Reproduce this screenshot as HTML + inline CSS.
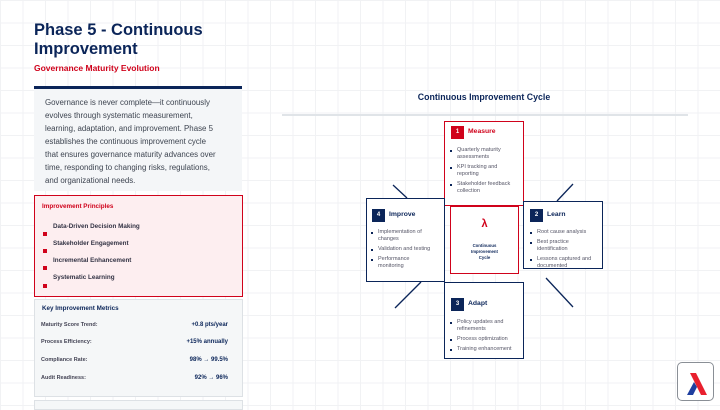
<!DOCTYPE html>
<html><head><meta charset="utf-8"><style>
*{margin:0;padding:0;box-sizing:border-box}
body{width:720px;height:405px;overflow:hidden;position:relative;font-family:"Liberation Sans",sans-serif;background:#fff;
background-image:linear-gradient(#f1f2f4 1px,transparent 1px),linear-gradient(90deg,#f1f2f4 1px,transparent 1px);background-size:22.5px 22.5px}
.a{position:absolute;white-space:nowrap}
.navy{color:#0b2559}
.red{color:#d0021b}
h1{position:absolute;left:34px;top:21px;font-size:16.5px;line-height:19px;font-weight:bold;color:#0b2559}
.box{position:absolute;background:#fff;border:1.3px solid #0b2559}
.num{position:absolute;width:13px;height:13px;background:#0b2559;color:#fff;font-size:6px;font-weight:bold;text-align:center;line-height:13px}
.bt{position:absolute;font-size:6.8px;font-weight:bold;color:#0b2559}
ul{position:absolute;list-style:none;font-size:5.5px;color:#556;line-height:7px;white-space:nowrap}
ul li{position:relative;padding-left:8px;margin-bottom:3px}
ul li:before{content:"";position:absolute;left:1px;top:3px;width:1.5px;height:1.5px;background:#0b2559}
.ml{position:absolute;left:41px;font-size:5.5px;font-weight:bold;color:#445}
.mv{position:absolute;right:492px;font-size:6px;font-weight:bold;color:#0b2559}
.pi{position:absolute;left:53px;font-size:6.3px;font-weight:bold;color:#334}
.sq{position:absolute;left:43px;width:4px;height:4px;background:#d0021b}
</style></head><body>
<h1>Phase 5 - Continuous<br>Improvement</h1>
<div class="a red" style="left:34px;top:63px;font-size:8.5px;font-weight:bold">Governance Maturity Evolution</div>
<div class="a" style="left:34px;top:86px;width:208px;height:3px;background:#0b2559"></div>
<div class="a" style="left:34px;top:89px;width:208px;height:102px;background:#f4f6f8"></div>
<div class="a" style="left:45px;top:96px;font-size:7.9px;line-height:13px;color:#3d4450">Governance is never complete—it continuously<br>evolves through systematic measurement,<br>learning, adaptation, and improvement. Phase 5<br>establishes the continuous improvement cycle<br>that ensures governance maturity advances over<br>time, responding to changing risks, regulations,<br>and organizational needs.</div>

<div class="a" style="left:34px;top:195px;width:209px;height:102px;background:#fdeef0;border:1px solid #d0021b"></div>
<div class="a red" style="left:42px;top:203px;font-size:6.3px;font-weight:bold">Improvement Principles</div>
<div class="pi" style="top:223px">Data-Driven Decision Making</div>
<div class="pi" style="top:240px">Stakeholder Engagement</div>
<div class="pi" style="top:257px">Incremental Enhancement</div>
<div class="pi" style="top:274px">Systematic Learning</div>
<div class="sq" style="top:232px"></div><div class="sq" style="top:249px"></div><div class="sq" style="top:266px"></div><div class="sq" style="top:284px"></div>

<div class="a" style="left:34px;top:299px;width:209px;height:98px;background:#f5f7f8;border:1px solid #dde1e5"></div>
<div class="a navy" style="left:42px;top:305px;font-size:6.3px;font-weight:bold">Key Improvement Metrics</div>
<div class="ml" style="top:322px">Maturity Score Trend:</div><div class="mv" style="top:322px">+0.8 pts/year</div>
<div class="ml" style="top:339px">Process Efficiency:</div><div class="mv" style="top:339px">+15% annually</div>
<div class="ml" style="top:357px">Compliance Rate:</div><div class="mv" style="top:357px">98% → 99.5%</div>
<div class="ml" style="top:375px">Audit Readiness:</div><div class="mv" style="top:375px">92% → 96%</div>
<div class="a" style="left:34px;top:400px;width:209px;height:10px;background:#f5f7f8;border:1px solid #dde1e5"></div>

<div class="a navy" style="left:384px;top:92px;width:200px;text-align:center;font-size:8.8px;font-weight:bold">Continuous Improvement Cycle</div>
<div class="a" style="left:282px;top:114px;width:406px;height:2px;background:#e0e4e8"></div>

<svg class="a" style="left:0;top:0" width="720" height="405"><g stroke="#0b2559" stroke-width="1.3">
<line x1="393" y1="185" x2="407" y2="198"/><line x1="573" y1="184" x2="557" y2="201"/>
<line x1="421" y1="282" x2="395" y2="308"/><line x1="546" y1="278" x2="573" y2="307"/></g></svg>

<div class="box" style="left:444px;top:121px;width:80px;height:85px;border-color:#d0021b"></div>
<div class="num" style="left:451px;top:126px;background:#d0021b">1</div>
<div class="bt red" style="left:468px;top:128px;color:#d0021b">Measure</div>
<ul style="left:449px;top:147px"><li>Quarterly maturity<br>assessments</li><li>KPI tracking and<br>reporting</li><li>Stakeholder feedback<br>collection</li></ul>

<div class="box" style="left:450px;top:206px;width:69px;height:68px;border-color:#d0021b"></div>
<div class="a red" style="left:450px;top:218px;width:69px;text-align:center;font-size:11px;font-weight:bold">λ</div>
<div class="a navy" style="left:450px;top:243px;width:69px;text-align:center;font-size:4.3px;font-weight:bold;line-height:6px">Continuous<br>Improvement<br>Cycle</div>

<div class="box" style="left:366px;top:198px;width:79px;height:84px"></div>
<div class="num" style="left:372px;top:209px">4</div>
<div class="bt" style="left:389px;top:211px">Improve</div>
<ul style="left:370px;top:229px"><li>Implementation of<br>changes</li><li>Validation and testing</li><li>Performance<br>monitoring</li></ul>

<div class="box" style="left:523px;top:201px;width:80px;height:68px"></div>
<div class="num" style="left:530px;top:209px">2</div>
<div class="bt" style="left:547px;top:211px">Learn</div>
<ul style="left:529px;top:229px"><li>Root cause analysis</li><li>Best practice<br>identification</li><li>Lessons captured and<br>documented</li></ul>

<div class="box" style="left:444px;top:282px;width:80px;height:77px"></div>
<div class="num" style="left:451px;top:298px">3</div>
<div class="bt" style="left:468px;top:300px">Adapt</div>
<ul style="left:449px;top:319px"><li>Policy updates and<br>refinements</li><li>Process optimization</li><li>Training enhancement</li></ul>

<div class="a" style="left:677px;top:362px;width:37px;height:39px;border:1.3px solid #8a8f96;border-radius:5px;background:#fff"></div>
<svg class="a" style="left:677px;top:362px" width="37" height="39"><polygon points="13,11 19,11 30,33 24,33" fill="#e8202e"/><polygon points="17,20 20,25 16,33 10,33" fill="#1f3f9f"/></svg>
</body></html>
